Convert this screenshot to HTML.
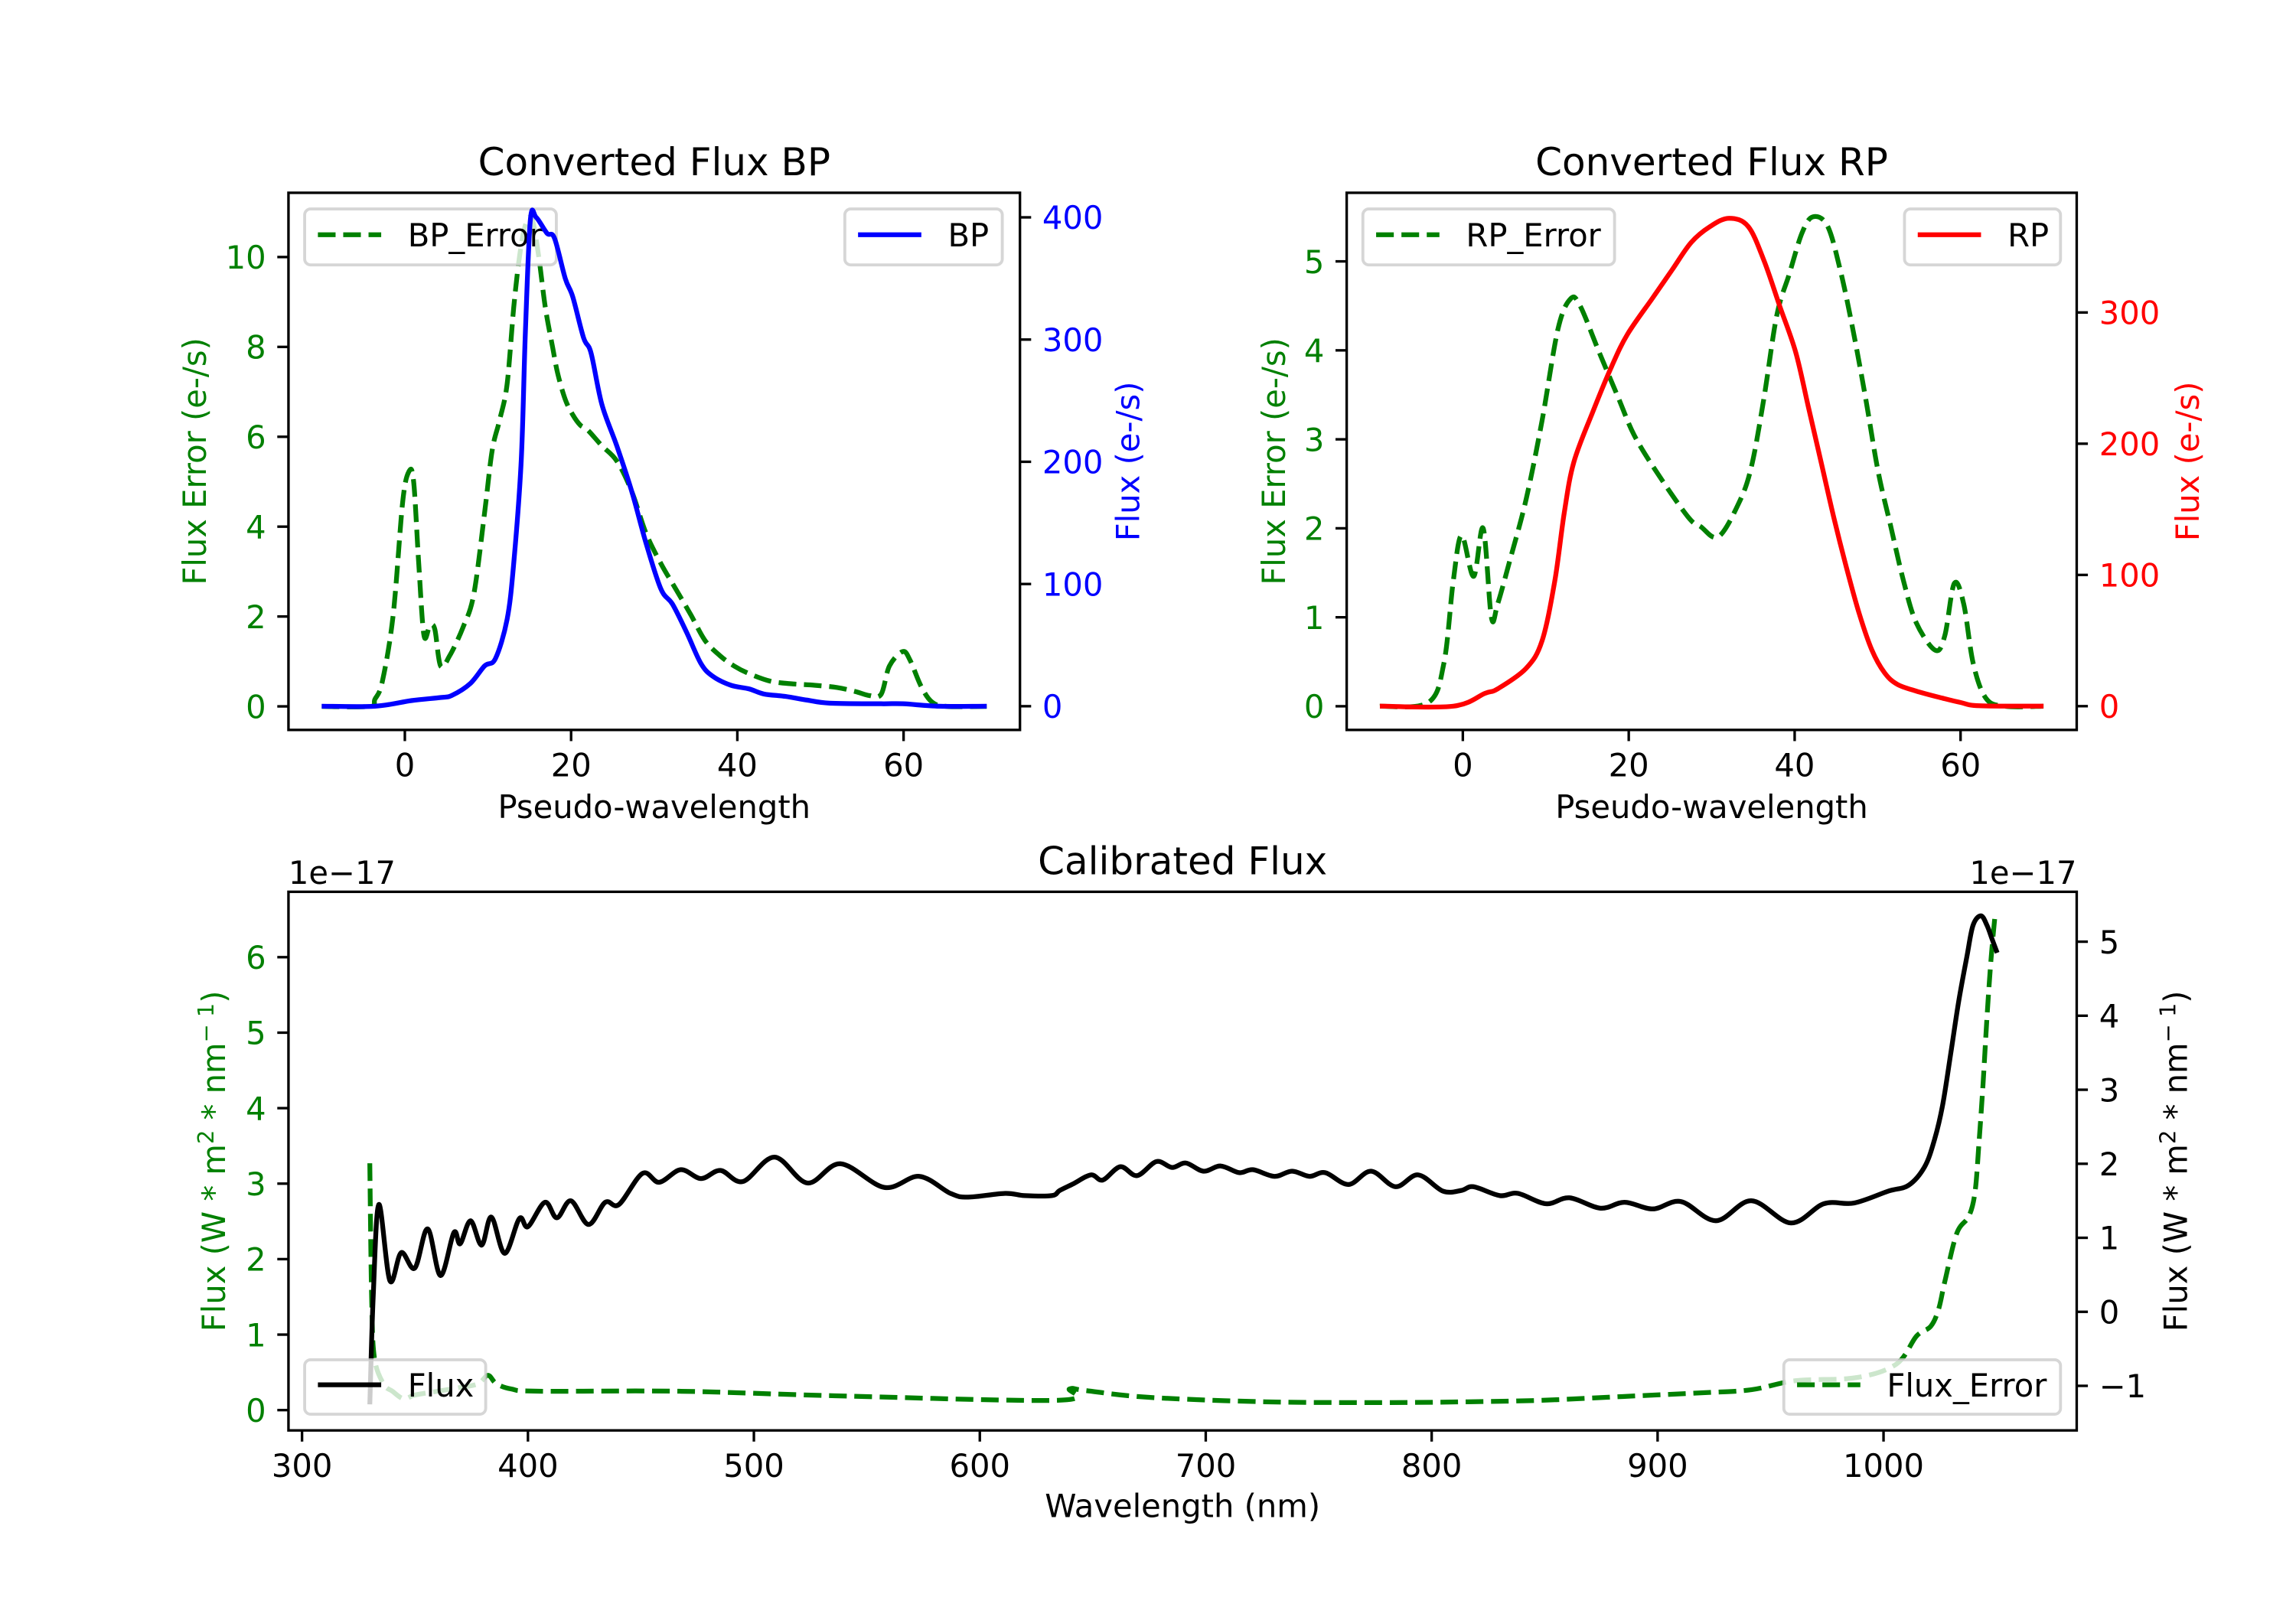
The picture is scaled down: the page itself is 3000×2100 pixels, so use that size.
<!DOCTYPE html>
<html><head><meta charset="utf-8"><title>Converted and Calibrated Flux</title>
<style>
html,body{margin:0;padding:0;background:#fff;}
svg{display:block;font-family:"DejaVu Sans","Liberation Sans",sans-serif;}
</style></head>
<body>
<svg id="fig" xmlns="http://www.w3.org/2000/svg" width="3000" height="2100" viewBox="0 0 1560 1092">
<rect x="0" y="0" width="1560" height="1092" fill="#fff"/>
</svg>
<script>
// ---- BP panel data ----
const bpX=[-10,-3.6,0.8,4.3,5.65,7.85,9.6,10.9,12.3,13.1,14.0,14.5,15.1,15.8,17.1,18.0,19.3,20.2,21.5,22.4,23.7,25.5,27.3,29.0,30.8,32.2,33.9,35.6,37.0,39.2,41.4,43.2,45.8,48.4,51.1,57.3,59.9,64.3,70];
const bpFlux=[0,0,4.6,7.1,8.8,18.4,33,39,71,117,201,306,398,400,387,383,350,335,301.5,289,247,213,175.7,133.8,96,83.5,60.4,35.2,24.7,17.2,14.2,10,8,5,2.5,2,2,0,0];
const bpErrX=[-10,-4.3,-3.6,-2.7,-1.4,-0.26,0.5,1.06,1.67,2.3,3.0,3.6,4.3,5.4,7.0,8.3,9.6,10.5,11.4,12.3,13.1,13.8,14.5,15.3,16.1,16.9,17.8,18.4,19.3,20.2,21.1,22.0,23.7,25.5,27.3,29.0,30.8,32.6,34.4,36.1,37.9,39.6,41.4,44.0,46.7,49.3,52.0,54.2,55.9,57.3,58.3,59.9,60.8,62.1,63.4,65.2,70];
const bpErr=[0,0,0.16,0.56,2.04,4.55,5.23,5.0,3.18,1.58,1.79,1.72,0.9,1.13,1.76,2.5,4.32,5.69,6.37,7.17,8.88,10.02,10.71,10.85,10.02,8.88,7.97,7.4,6.83,6.49,6.26,6.15,5.8,5.46,4.78,3.86,3.18,2.61,2.04,1.47,1.13,0.9,0.73,0.56,0.5,0.47,0.42,0.33,0.24,0.27,0.9,1.22,1.02,0.45,0.1,0,0];
// ---- RP panel data ----
const rpX=[-10,-1.15,2.68,4.2,7.64,9.55,11.08,12.23,13.38,15.67,17.96,19.87,22.93,25.22,27.52,29.81,32.1,34.4,36.31,38.22,40.13,41.66,43.19,44.71,46.24,47.77,49.3,50.83,52.36,54.65,57.7,60.0,62.3,70];
const rpFlux=[0,0,9.8,13.2,28.9,49.8,95.2,147.5,185.9,224.3,259.2,283.6,311.5,332.4,353.3,365.5,371.8,365.5,339.4,304.5,269.6,227.8,185.9,144,105.7,70.8,42.9,25.5,16.7,11.5,6.3,2.8,0.3,0];
const rpErrX=[-10,-4.2,-2.29,-1.15,-0.15,1.3,2.45,3.44,4.2,5.73,7.64,9.55,11.47,12.99,14.14,16.43,18.73,20.64,23.31,27.13,28.66,30.8,33.25,34.78,36.31,37.84,39.36,40.89,42.19,43.95,45.48,47.01,48.54,50.06,51.59,53.12,54.65,56.94,58.09,59.24,60.38,61.53,63.06,65.35,70];
const rpErr=[0,0.04,0.48,1.41,1.92,1.46,2.0,1.0,1.15,1.66,2.33,3.21,4.24,4.58,4.5,3.98,3.47,3.05,2.64,2.13,2.02,1.905,2.28,2.69,3.47,4.39,4.86,5.32,5.5,5.4,4.91,4.24,3.47,2.64,2.02,1.41,0.94,0.63,0.79,1.38,1.15,0.48,0.09,0,0];
// ---- Calibrated panel data (units 1e-17) ----
const calX=[330,331.5,334.0,338.9,343.9,349.9,355.6,361.3,367.2,370.0,374.6,379.5,383.8,389.7,396.2,400.0,407.5,412.8,419.0,426.8,434.2,440.3,450.7,458.1,467.6,476.6,485.2,495.1,509.1,523.7,538.3,557.8,573.2,587.0,594.8,611.2,619.8,631.9,635.4,641.4,649.2,654.4,662.2,669.6,678.2,685.1,691.2,699.0,706.6,714.8,720.9,730.4,738.2,745.9,752.9,763.2,773.2,784.0,794.0,805.0,813.2,818.5,830.1,838.1,850.6,861.0,874.7,885.4,897.9,910.3,925.8,941.5,959.0,973.6,987.0,1002.1,1011.1,1018.2,1022.6,1026.2,1029.8,1033.3,1036.9,1039.6,1043.1,1045.8,1048.1,1050.3];
const calFlux=[-1.25,0.2,1.45,0.42,0.80,0.59,1.12,0.49,1.07,0.92,1.23,0.90,1.28,0.79,1.26,1.15,1.48,1.27,1.50,1.18,1.48,1.45,1.87,1.75,1.92,1.80,1.91,1.76,2.09,1.74,2.00,1.68,1.83,1.60,1.55,1.60,1.57,1.57,1.64,1.73,1.85,1.78,1.96,1.84,2.03,1.95,2.01,1.90,1.97,1.88,1.92,1.83,1.90,1.83,1.88,1.72,1.90,1.69,1.85,1.63,1.64,1.69,1.57,1.60,1.46,1.54,1.40,1.48,1.39,1.49,1.23,1.50,1.20,1.46,1.47,1.63,1.71,1.96,2.33,2.80,3.50,4.20,4.80,5.22,5.35,5.22,5.03,4.85];
const calErrX=[330,330.8,332,336,340,345,350,360,370,378,382.3,386,392.6,404.7,466.9,536,634.5,639.7,646.6,674.3,726.1,777.9,815.9,848.8,884.5,920.1,941.5,961.1,987.9,1005.7,1014.6,1020.9,1024.4,1027.1,1032.4,1037.8,1040.5,1042.2,1044.0,1045.8,1047.6,1049.4];
const calErr=[3.27,1.5,0.7,0.35,0.25,0.15,0.2,0.25,0.3,0.35,0.46,0.35,0.28,0.25,0.25,0.19,0.13,0.28,0.26,0.17,0.11,0.10,0.11,0.13,0.18,0.23,0.27,0.39,0.43,0.61,0.98,1.11,1.34,1.70,2.34,2.57,2.89,3.52,4.30,5.21,5.98,6.57];
// ---- tick labels ----
const pseudoTicks=[0,20,40,60];
const bpErrTicks=[0,2,4,6,8,10];
const bpFluxTicks=[0,100,200,300,400];
const rpErrTicks=[0,1,2,3,4,5];
const rpFluxTicks=[0,100,200,300];
const wlTicks=[300,400,500,600,700,800,900,1000];
const calErrTicks=[0,1,2,3,4,5,6];
const calFluxTicks=[-1,0,1,2,3,4,5];

const NS='http://www.w3.org/2000/svg';
const svg=document.getElementById('fig');
const FS=21.67, TFS=26, LW=3.25, DASH='12,5.2', AXW=1.73, TL=7.6;
function mk(tag,parent,attrs){const e=document.createElementNS(NS,tag);for(const k in attrs)e.setAttribute(k,attrs[k]);parent.appendChild(e);return e;}
function lin(d0,d1,r0,r1){return v=>r0+(v-d0)/(d1-d0)*(r1-r0);}
function fmt(v){return v<0?'\u2212'+(-v):String(v);}

function txt(parent,x,y,s,opts){
  const t=mk('text',parent,{x:x,y:y,'font-size':opts.fs||FS,fill:opts.fill||'#000','text-anchor':opts.anchor||'start'});
  if(opts.rot)t.setAttribute('transform','rotate(-90 '+x+' '+y+')');
  t.textContent=s;return t;
}
function frame(g,x0,x1,y0,y1,name){
  const r=mk('rect',g,{x:x0,y:y0,width:x1-x0,height:y1-y0,fill:'none',stroke:'#000','stroke-width':AXW});
  
  
}
function xAxis(g,sx,ticks,yb,name){
  const ga=mk('g',g,{});
  
  
  ticks.forEach(v=>{
    const x=sx(v);
    const l=mk('line',ga,{x1:x,x2:x,y1:yb,y2:yb+TL,stroke:'#000','stroke-width':AXW});
    
    
    const t=txt(ga,x,yb+TL+7.6+0.76*FS,fmt(v),{anchor:'middle'});
    
    
  });
}
function yAxis(g,sy,ticks,xa,side,color,name){
  const ga=mk('g',g,{});
  
  
  const d=side==='left'?-1:1;
  ticks.forEach(v=>{
    const y=sy(v);
    const l=mk('line',ga,{x1:xa,x2:xa+d*TL,y1:y,y2:y,stroke:'#000','stroke-width':AXW});
    
    
    const t=txt(ga,xa+d*(TL+7.6),y+0.365*FS,fmt(v),{anchor:side==='left'?'end':'start',fill:color});
    
    
  });
}
function smoothPath(pts){
  let d='M'+pts[0][0].toFixed(2)+' '+pts[0][1].toFixed(2);
  for(let i=0;i<pts.length-1;i++){
    const p0=pts[Math.max(0,i-1)],p1=pts[i],p2=pts[i+1],p3=pts[Math.min(pts.length-1,i+2)];
    const c1x=p1[0]+(p2[0]-p0[0])/6, c1y=p1[1]+(p2[1]-p0[1])/6;
    const c2x=p2[0]-(p3[0]-p1[0])/6, c2y=p2[1]-(p3[1]-p1[1])/6;
    d+=' C'+c1x.toFixed(2)+' '+c1y.toFixed(2)+' '+c2x.toFixed(2)+' '+c2y.toFixed(2)+' '+p2[0].toFixed(2)+' '+p2[1].toFixed(2);
  }
  return d;
}
function series(g,xs,ys,sx,sy,color,dashed,name){
  const pts=xs.map((x,i)=>[sx(x),sy(ys[i])]);
  const p=mk('path',g,{d:smoothPath(pts),fill:'none',stroke:color,'stroke-width':LW,'stroke-linejoin':'round'});
  if(dashed)p.setAttribute('stroke-dasharray',DASH);
  
  
  return p;
}
function legend(g,x0,x1,y0,y1,label,color,dashed,name){
  const gl=mk('g',g,{});
  
  
  const r=mk('rect',gl,{x:x0,y:y0,width:x1-x0,height:y1-y0,rx:4,ry:4,fill:'#fff','fill-opacity':0.8,stroke:'#cccccc','stroke-opacity':0.8,'stroke-width':2});
  
  
  const ym=(y0+y1)/2-1.5;
  const l=mk('line',gl,{x1:x0+9,x2:x0+52,y1:ym,y2:ym,stroke:color,'stroke-width':LW});
  if(dashed)l.setAttribute('stroke-dasharray',DASH);
  
  
  const t=txt(gl,x0+70,ym+0.365*FS,label,{});
  
  
}

// ================= BP panel =================
(function(){
  const g=mk('g',svg,{});
  
  
  const X0=196,X1=693,Y0=131,Y1=496;
  const sx=lin(-14,74,X0,X1), syL=lin(-0.524,11.43,Y1,Y0), syR=lin(-19.4,420.1,Y1,Y0);
  series(g,bpErrX,bpErr,sx,syL,'#008000',true,'bp-error-line');
  legend(g,207,378,142,180,'BP_Error','#008000',true,'bp-error-legend');
  series(g,bpX,bpFlux,sx,syR,'#0000ff',false,'bp-flux-line');
  legend(g,574,681,142,180,'BP','#0000ff',false,'bp-legend');
  frame(g,X0,X1,Y0,Y1,'bp-axes-frame');
  xAxis(g,sx,pseudoTicks,Y1,'bp-x-axis');
  yAxis(g,syL,bpErrTicks,X0,'left','#008000','bp-left-y-axis');
  yAxis(g,syR,bpFluxTicks,X1,'right','#0000ff','bp-right-y-axis');
  let t=txt(g,(X0+X1)/2,119,'Converted Flux BP',{anchor:'middle',fs:TFS});
  
  
  t=txt(g,(X0+X1)/2,556,'Pseudo-wavelength',{anchor:'middle'});
  
  
  t=txt(g,140,313.5,'Flux Error (e-/s)',{anchor:'middle',fill:'#008000',rot:true});
  
  
  t=txt(g,774,313.5,'Flux (e-/s)',{anchor:'middle',fill:'#0000ff',rot:true});
  
  
})();

// ================= RP panel =================
(function(){
  const g=mk('g',svg,{});
  
  
  const X0=915,X1=1411,Y0=131,Y1=496;
  const sx=lin(-14,74,X0,X1), syL=lin(-0.266,5.771,Y1,Y0), syR=lin(-18.1,391.2,Y1,Y0);
  series(g,rpErrX,rpErr,sx,syL,'#008000',true,'rp-error-line');
  legend(g,926,1097,142,180,'RP_Error','#008000',true,'rp-error-legend');
  series(g,rpX,rpFlux,sx,syR,'#ff0000',false,'rp-flux-line');
  legend(g,1294,1400,142,180,'RP','#ff0000',false,'rp-legend');
  frame(g,X0,X1,Y0,Y1,'rp-axes-frame');
  xAxis(g,sx,pseudoTicks,Y1,'rp-x-axis');
  yAxis(g,syL,rpErrTicks,X0,'left','#008000','rp-left-y-axis');
  yAxis(g,syR,rpFluxTicks,X1,'right','#ff0000','rp-right-y-axis');
  let t=txt(g,(X0+X1)/2,119,'Converted Flux RP',{anchor:'middle',fs:TFS});
  
  
  t=txt(g,(X0+X1)/2,556,'Pseudo-wavelength',{anchor:'middle'});
  
  
  t=txt(g,873,313.5,'Flux Error (e-/s)',{anchor:'middle',fill:'#008000',rot:true});
  
  
  t=txt(g,1494,313.5,'Flux (e-/s)',{anchor:'middle',fill:'#ff0000',rot:true});
  
  
})();

// ================= Calibrated panel =================
(function(){
  const g=mk('g',svg,{});
  
  
  const X0=196,X1=1411,Y0=606,Y1=972;
  const sx=lin(294,1085.5,X0,X1), syL=lin(-0.269,6.866,Y1,Y0), syR=lin(-1.602,5.674,Y1,Y0);
  series(g,calErrX,calErr,sx,syL,'#008000',true,'calibrated-error-line');
  series(g,calX,calFlux,sx,syR,'#000000',false,'calibrated-flux-line');
  legend(g,207,330,924,961,'Flux','#000000',false,'flux-legend');
  legend(g,1212,1400,924,961,'Flux_Error','#008000',true,'flux-error-legend');
  frame(g,X0,X1,Y0,Y1,'calibrated-axes-frame');
  xAxis(g,sx,wlTicks,Y1,'calibrated-x-axis');
  yAxis(g,syL,calErrTicks,X0,'left','#008000','calibrated-left-y-axis');
  yAxis(g,syR,calFluxTicks,X1,'right','#000000','calibrated-right-y-axis');
  let t=txt(g,803.5,594,'Calibrated Flux',{anchor:'middle',fs:TFS});
  
  
  t=txt(g,196,600.5,'1e\u221217',{});
  
  
  t=txt(g,1411,600.5,'1e\u221217',{anchor:'end'});
  
  
  t=txt(g,803.5,1031,'Wavelength (nm)',{anchor:'middle'});
  
  
  function unitLabel(x,color,name){
    const tt=mk('text',g,{x:x,y:789,'font-size':FS,fill:color,'text-anchor':'middle',transform:'rotate(-90 '+x+' 789)'});
    
    
    tt.innerHTML='Flux (W * m<tspan dy="-8" font-size="15">2</tspan><tspan dy="8"> * nm</tspan><tspan dy="-8" font-size="15">\u2212 1</tspan><tspan dy="8">)</tspan>';
  }
  unitLabel(153,'#008000','calibrated-left-y-axis-title');
  unitLabel(1486,'#000000','calibrated-right-y-axis-title');
})();
</script>
</body></html>
